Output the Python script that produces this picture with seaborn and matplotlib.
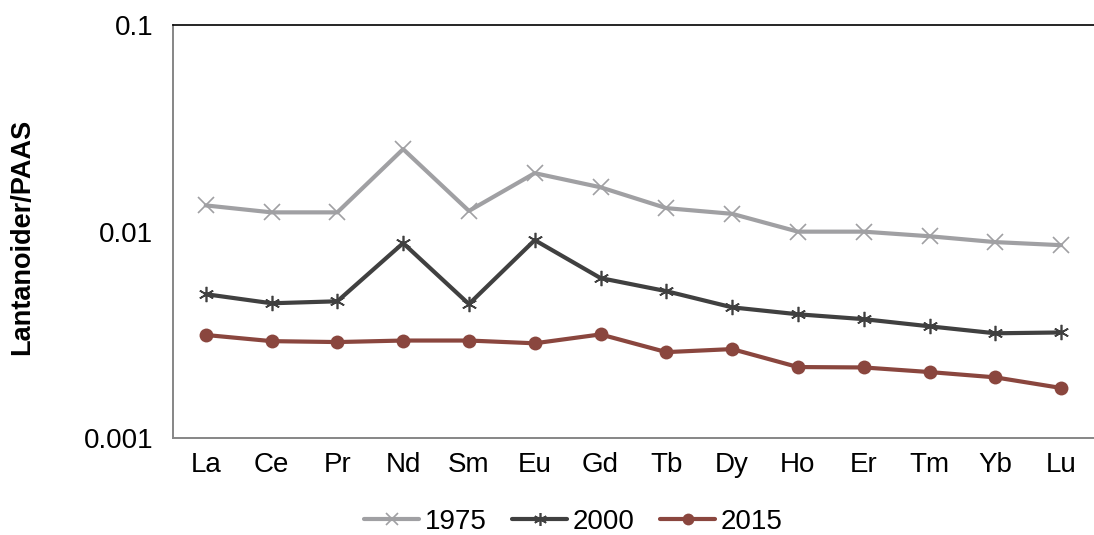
import numpy as np
import pandas as pd
import matplotlib
matplotlib.use("Agg")
import matplotlib.pyplot as plt
import seaborn as sns

# Rare earth elements, normalised to PAAS
elements = ["La", "Ce", "Pr", "Nd", "Sm", "Eu", "Gd", "Tb", "Dy", "Ho", "Er", "Tm", "Yb", "Lu"]
y1975 = [0.0134, 0.0124, 0.0124, 0.0251, 0.0126, 0.0192, 0.0164, 0.0130, 0.0122, 0.0100, 0.0100, 0.0095, 0.0089, 0.0086]
y2000 = [0.00498, 0.00450, 0.00460, 0.00880, 0.00446, 0.00910, 0.00596, 0.00515, 0.00430, 0.00398, 0.00377, 0.00348, 0.00322, 0.00325]
y2015 = [0.00316, 0.00295, 0.00292, 0.00297, 0.00297, 0.00288, 0.00318, 0.00261, 0.00270, 0.00221, 0.00220, 0.00209, 0.00197, 0.00175]
years = ["1975", "2000", "2015"]

sns.set_style("white")
plt.rcParams["font.family"] = ["Liberation Sans", "DejaVu Sans"]
plt.rcParams["text.color"] = "black"
plt.rcParams["xtick.color"] = "black"
plt.rcParams["ytick.color"] = "black"
plt.rcParams["axes.labelcolor"] = "black"

df = pd.DataFrame({
    "element": elements * 3,
    "value": y1975 + y2000 + y2015,
    "year": [years[0]] * 14 + [years[1]] * 14 + [years[2]] * 14,
})
df["pos"] = df["element"].map({e: i for i, e in enumerate(elements)})

fig = plt.figure(figsize=(10.94, 5.35), dpi=100)
ax = fig.add_axes([0.158, 0.181, 0.842, 0.772])

palette = {"1975": "#A0A0A3", "2000": "#404040", "2015": "#8A463E"}
markers = {"1975": "x", "2000": (6, 2, 0), "2015": "o"}
sizes = {"1975": 11, "2000": 11, "2015": 10}

for yr in years:
    sub = df[df["year"] == yr]
    sns.lineplot(data=sub, x="pos", y="value", ax=ax, color=palette[yr],
                 linewidth=3.0, marker=markers[yr], markersize=sizes[yr],
                 markeredgewidth=1.2 if yr != "2015" else 0,
                 markeredgecolor=palette[yr], label=yr)

ax.set_yscale("log")
ax.set_ylim(0.001, 0.1)
ax.set_xlim(-0.5, 13.5)
ax.set_yticks([0.001, 0.01, 0.1])
ax.set_yticklabels(["0.001", "0.01", "0.1"])
ax.yaxis.set_minor_locator(matplotlib.ticker.NullLocator())
ax.set_xticks(np.arange(14))
ax.set_xticklabels(elements)
ax.set_xticks(np.arange(-0.5, 14.0, 1.0), minor=True)
ax.tick_params(axis="x", which="major", length=0, pad=10, labelsize=20)
ax.tick_params(axis="x", which="minor", length=6, width=1.2, color="#868686", direction="out")
ax.tick_params(axis="y", which="major", length=6, width=1.2, color="#868686", direction="out",
               labelsize=20, pad=8)

ax.set_xlabel("")
ax.set_ylabel("Lantanoider/PAAS", fontsize=19.5, fontweight="bold")
ax.yaxis.set_label_coords(-0.149, 0.487)

for side in ["left", "bottom"]:
    ax.spines[side].set_color("#868686")
    ax.spines[side].set_linewidth(1.4)
ax.spines["top"].set_color("#000000")
ax.spines["top"].set_linewidth(1.2)
ax.spines["right"].set_visible(False)

handles, labels = ax.get_legend_handles_labels()
ax.get_legend().remove()
fig.legend(handles, labels, loc="center", bbox_to_anchor=(0.524, 0.025), ncol=3, frameon=False,
           fontsize=20, handlelength=2.0, handletextpad=0.2, columnspacing=0.9, markerscale=0.85,
           borderpad=0.1)

fig.savefig("out.png", dpi=100)
